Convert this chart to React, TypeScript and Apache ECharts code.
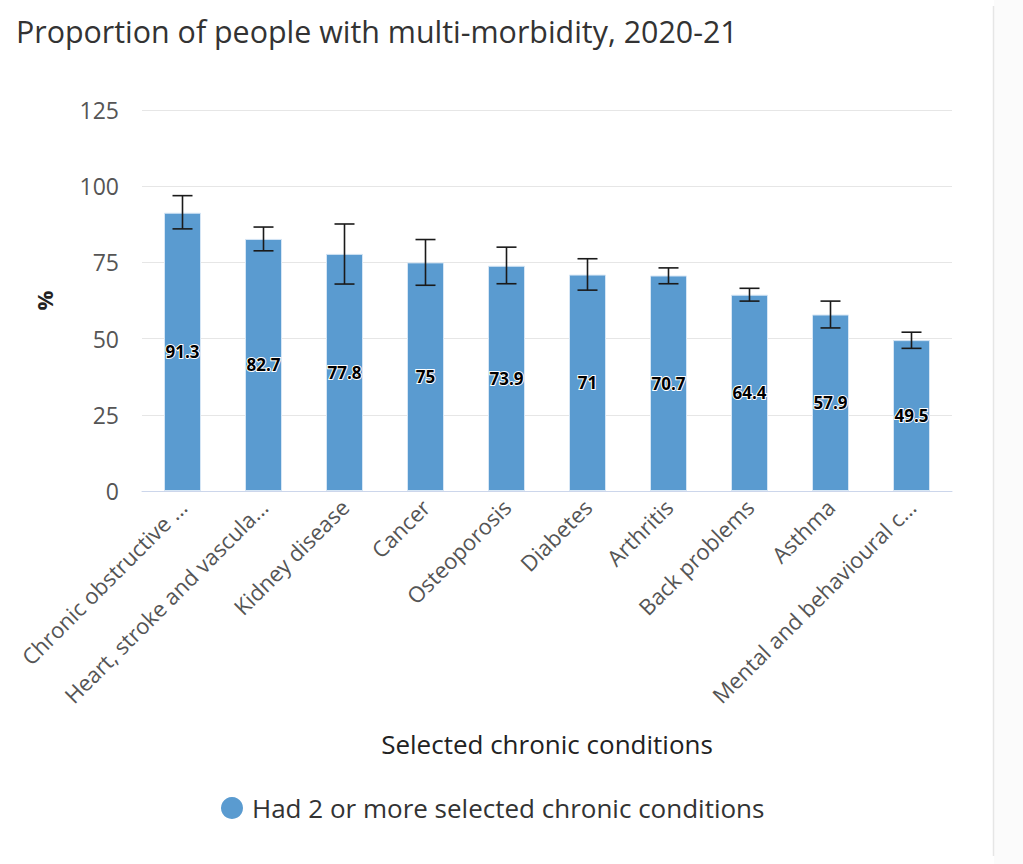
import React, { useEffect, useRef } from "react";
import * as echarts from "echarts";

const categories = [
  "Chronic obstructive pulmonary disease",
  "Heart, stroke and vascular disease",
  "Kidney disease",
  "Cancer",
  "Osteoporosis",
  "Diabetes",
  "Arthritis",
  "Back problems",
  "Asthma",
  "Mental and behavioural conditions",
];
const tickLabels = [
  "Chronic obstructive ...",
  "Heart, stroke and vascula...",
  "Kidney disease",
  "Cancer",
  "Osteoporosis",
  "Diabetes",
  "Arthritis",
  "Back problems",
  "Asthma",
  "Mental and behavioural c...",
];
const values = [91.3, 82.7, 77.8, 75, 73.9, 71, 70.7, 64.4, 57.9, 49.5];
const lows = [86.0, 78.8, 67.9, 67.5, 68.0, 65.9, 68.0, 62.3, 53.5, 46.8];
const highs = [96.9, 86.6, 87.6, 82.5, 80.0, 76.2, 73.2, 66.5, 62.3, 52.1];
const yTicks = [0, 25, 50, 75, 100, 125];

const FONT = "'Open Sans', 'Noto Sans', sans-serif";

export default function App() {
  const ref = useRef<HTMLDivElement>(null);
  useEffect(() => {
    if (!ref.current) return;
    const chart = echarts.init(ref.current, null, { renderer: "svg" });
    const errData = categories.map((_, i) => [i, lows[i], highs[i]]);
    chart.setOption({
      animation: false,
      backgroundColor: "#ffffff",
      textStyle: { fontFamily: FONT },
      title: {
        text: "Proportion of people with multi-morbidity, 2020-21",
        left: 11,
        top: 11,
        textStyle: { fontFamily: FONT, fontSize: 30.4, fontWeight: "normal", color: "#333333" },
      },
      graphic: [
        { type: "rect", shape: { x: 994, y: 0, width: 29, height: 864 }, style: { fill: "#fbfbfb" }, silent: true },
        { type: "line", shape: { x1: 993.5, y1: 6, x2: 993.5, y2: 856 }, style: { stroke: "#e6e6e6", lineWidth: 1.5 }, silent: true },
      ],
      legend: {
        data: [{ name: "Had 2 or more selected chronic conditions", icon: "circle" }],
        left: 216,
        top: 790,
        itemWidth: 22,
        itemHeight: 22,
        itemGap: 8,
        itemStyle: { borderWidth: 0 },
        textStyle: { fontFamily: FONT, fontSize: 26, color: "#333333", fontWeight: 500, padding: [0, 0, 0, 4] },
      },
      grid: { left: 142, right: 71, top: 110, bottom: 373, containLabel: false },
      xAxis: {
        type: "category",
        data: categories,
        name: "Selected chronic conditions",
        nameLocation: "middle",
        nameGap: 240,
        nameTextStyle: { fontFamily: FONT, fontSize: 26, color: "#222222", fontWeight: 500 },
        axisLine: { lineStyle: { color: "#ccd6eb", width: 1 } },
        axisTick: { show: false },
        axisLabel: {
          rotate: 45,
          interval: 0,
          margin: 12,
          fontFamily: FONT,
          fontSize: 22,
          color: "#555555",
          formatter: (_v: string, i: number) => tickLabels[i],
        },
      },
      yAxis: {
        type: "value",
        min: 0,
        max: 125,
        interval: 25,
        name: "%",
        nameLocation: "middle",
        nameGap: 87,
        nameTextStyle: { fontFamily: FONT, fontSize: 22, color: "#222222", fontWeight: "bold" },
        axisLabel: {
          fontFamily: FONT,
          fontSize: 23,
          color: "#555555",
          margin: 23,
          formatter: (v: number) => (yTicks.includes(v) ? String(v) : ""),
        },
        splitLine: { lineStyle: { color: "#e6e6e6", width: 1 } },
        axisLine: { show: false },
        axisTick: { show: false },
      },
      series: [
        {
          name: "Had 2 or more selected chronic conditions",
          type: "bar",
          data: values,
          barWidth: 37,
          itemStyle: { color: "#5a9bd0", borderColor: "#d6e6f5", borderWidth: 1 },
          label: {
            show: true,
            position: "inside",
            fontFamily: FONT,
            fontSize: 17,
            fontWeight: "bold",
            color: "#000000",
            textBorderColor: "#ffffff",
            textBorderWidth: 2,
          },
          z: 2,
        },
        {
          type: "custom",
          name: "error",
          data: errData,
          z: 5,
          renderItem: (_params: any, api: any) => {
            const x = api.value(0);
            const lo = api.coord([x, api.value(1)]);
            const hi = api.coord([x, api.value(2)]);
            const hw = 10;
            const style = { stroke: "#1a1a1a", lineWidth: 1.6, fill: "none" };
            return {
              type: "group",
              children: [
                { type: "line", shape: { x1: hi[0], y1: hi[1], x2: lo[0], y2: lo[1] }, style },
                { type: "line", shape: { x1: hi[0] - hw, y1: hi[1], x2: hi[0] + hw, y2: hi[1] }, style },
                { type: "line", shape: { x1: lo[0] - hw, y1: lo[1], x2: lo[0] + hw, y2: lo[1] }, style },
              ],
            };
          },
          tooltip: { show: false },
        },
      ],
    });
    return () => chart.dispose();
  }, []);
  return (
    <div
      ref={ref}
      style={{ position: "fixed", left: 0, top: 0, width: 1023, height: 864 }}
    />
  );
}
